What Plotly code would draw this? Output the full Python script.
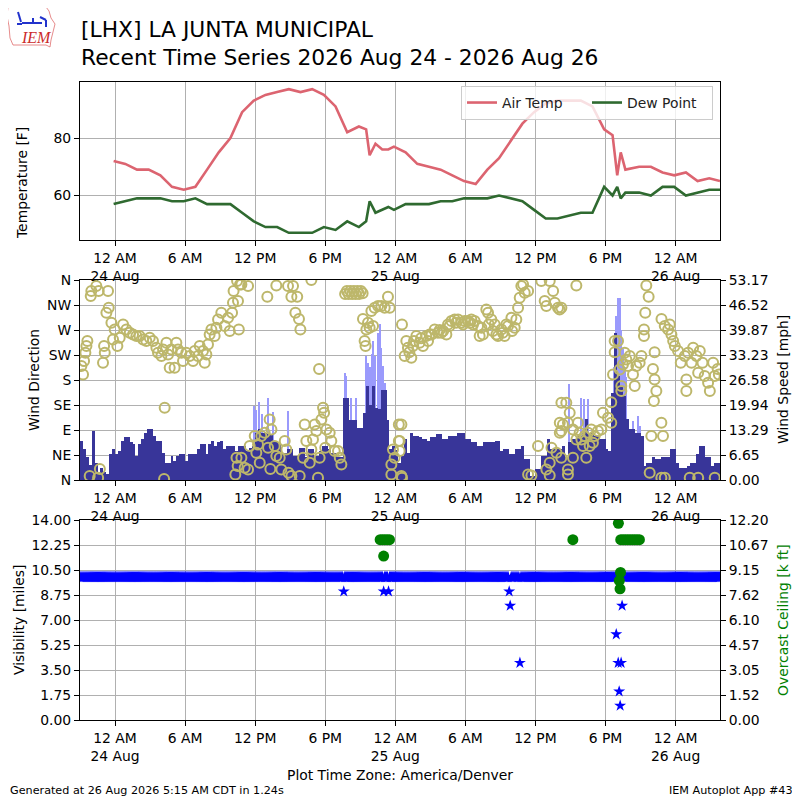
import numpy as np
import pandas as pd
import plotly.graph_objects as go

# ---------------------------------------------------------------- data
BASE = pd.Timestamp("2026-08-24 00:00")          # hours below are offsets from this
X_START_H, X_END_H = -3.0, 51.8

# hourly temperature / dew point observations
temp_hours = [-0.12, 0.88, 1.88, 2.88, 3.88, 4.88, 5.88, 6.88, 7.88, 8.88, 9.88, 10.88,
              11.88, 12.88, 13.88, 14.88, 15.88, 16.88, 17.88, 18.88, 19.88, 20.88, 21.5,
              21.8, 22.3, 22.88, 23.4, 23.88, 24.88, 25.88, 26.88, 27.88, 28.88, 29.88,
              30.88, 31.88, 32.88, 33.88, 34.88, 35.88, 36.88, 37.88, 38.88, 39.88, 40.88,
              41.88, 42.6, 43.0, 43.3, 43.7, 44.88, 45.88, 46.88, 47.88, 48.88, 49.88,
              50.88, 51.8]
air_temp = [72, 71, 69, 69, 67, 63, 62, 63, 69, 75, 80, 89, 93, 95, 96, 97, 96, 97, 95, 91,
            82, 84, 83, 74, 78, 76, 76, 77, 75, 71, 70, 69, 67, 65, 64, 69, 73, 79, 85, 89,
            92, 93, 93, 93, 91, 83, 81, 67, 75, 69, 70, 70, 68, 67, 68, 65, 66, 65]
dew_point = [57, 58, 59, 59, 59, 58, 58, 59, 57, 57, 57, 54, 51, 49, 49, 47, 47, 47, 49, 48,
             51, 49, 51, 58, 54, 55, 56, 55, 57, 57, 57, 58, 58, 59, 59, 59, 60, 59, 58, 55,
             52, 52, 53, 54, 54, 63, 60, 63, 59, 61, 61, 60, 63, 63, 60, 61, 62, 62]

# sustained wind speed [mph], 15-minute bins starting at hour -3 (one row per hour)
WIND_BIN_START_H = -3.0
WIND_BIN_MIN = 15
wind_speed = [
    10.4, 8.2, 6.0, 4.0,   13.0, 4.6, 2.0, 3.3,   2.0, 1.5, 6.8, 8.2,
    6.8, 7.7, 10.4, 11.3,  11.3, 10.0, 9.5, 6.4,  9.5, 10.8, 12.6, 13.6,
    13.6, 11.7, 10.4, 10.4, 7.3, 4.6, 4.6, 6.4,   5.0, 6.4, 6.8, 6.8,
    5.0, 6.8, 6.8, 6.8,    8.2, 9.5, 9.5, 6.8,    9.5, 10.4, 9.0, 10.0,
    10.4, 8.2, 9.0, 9.0,   9.0, 7.7, 9.0, 9.0,    9.0, 7.7, 8.5, 9.0,
    12.6, 13.5, 12.6, 12.6, 12.1, 12.1, 10.0, 10.0, 9.5, 7.3, 7.3, 8.2,
    8.2, 6.4, 6.4, 8.6,    8.6, 6.0, 8.2, 8.2,    6.4, 6.4, 7.7, 9.0,
    9.0, 8.2, 7.3, 7.3,    6.0, 6.0, 21.9, 21.9,  16.0, 16.0, 16.0, 13.9,
    13.9, 17.9, 25.0, 20.0, 25.0, 19.2, 18.8, 24.0, 24.0, 16.0, 8.2, 9.0,
    8.0, 4.6, 6.4, 10.8,   7.3, 12.6, 11.7, 11.7, 11.3, 10.8, 10.8, 10.4,
    11.3, 11.3, 12.1, 12.1, 10.8, 10.8, 11.7, 11.7, 11.7, 12.6, 12.6, 12.6,
    10.8, 10.8, 10.0, 10.0, 9.0, 9.0, 10.0, 10.0, 10.0, 10.0, 10.4, 10.4,
    7.7, 8.2, 8.2, 6.8,    6.8, 8.2, 8.2, 9.0,    5.5, 5.5, 1.0, 1.0,
    2.8, 2.8, 6.4, 6.4,    10.8, 8.2, 8.2, 8.2,   8.2, 9.0, 6.0, 10.0,
    10.8, 10.8, 11.7, 11.7, 12.6, 16.1, 12.6, 12.6, 11.7, 11.7, 10.8, 10.8,
    8.2, 7.7, 23.0, 39.0,  27.6, 25.0, 22.3, 16.1, 13.5, 13.5, 12.6, 12.6,
    11.7, 3.7, 4.6, 4.6,   6.0, 5.5, 5.5, 6.0,    6.0, 6.0, 8.2, 8.2,
    4.6, 3.3, 3.3, 3.3,    3.7, 4.6, 4.6, 6.8,    9.0, 9.0, 6.0, 6.0,
    3.7, 4.6, 4.6, 4.6,
]

# wind gusts [mph]
gust_hours = [11.87, 12.1, 12.33, 12.6, 13.1, 13.5, 14.81, 19.66, 19.8, 20.23, 20.66,
              21.52, 21.66, 21.8, 21.95, 22.09, 22.29, 22.52, 22.66, 22.8, 22.95, 23.09,
              38.84, 39.93, 40.13, 40.5, 42.75, 42.92, 43.07, 43.21, 43.35, 43.49, 43.64,
              43.78, 44.35, 44.78, 44.92]
gust_speed = [19.7, 18.5, 20.7, 17.5, 21.8, 18.0, 18.3, 28.5, 27.6, 21.9, 21.9,
              33.0, 31.0, 30.0, 33.4, 37.0, 33.0, 39.2, 41.4, 35.0, 30.3, 25.9,
              25.4, 21.9, 21.5, 21.5, 30.0, 43.6, 48.33, 48.33, 40.0, 34.7, 30.0,
              27.5, 15.7, 17.0, 14.4]

# wind direction [deg]
wdir_hours = [
    -2.88, -2.74, -2.65, -2.54, -2.45, -2.37, -2.17, -2.08, -2.03, -1.6, -1.45, -1.4, -1.3,
    -1.03, -0.94, -0.88, -0.74, -0.6, -0.54, -0.31, -0.17, -0.03, 0.2, 0.4, 0.69, 0.97,
    1.26, 1.54, 1.83, 2.1, 2.4, 2.68, 2.97, 3.25, 3.54, 3.68, 3.97, 4.11, 4.2, 4.25, 4.4,
    4.54, 4.68, 4.82, 5.1, 5.25, 5.39, 5.68, 5.82, 6.1, 6.39, 6.68, 6.82, 7.1, 7.25, 7.53,
    7.68, 7.82, 7.96, 8.1, 8.25, 8.53, 8.68, 8.82, 9.1, 9.39, 9.68, 9.82, 10.02, 10.1,
    10.15, 10.3, 10.4, 10.45, 10.5, 10.7,
    10.53, 10.6, 10.82, 10.82, 11.1, 11.39, 11.39, 11.53, 11.96, 12.1, 12.24, 12.39, 12.53,
    12.81, 13.04, 13.1, 13.24, 13.3, 13.39, 13.67, 13.81, 13.81, 14.1, 14.24, 14.53, 14.67,
    14.81, 14.85, 15.1, 15.1, 15.24, 15.44, 15.6, 15.75, 15.81, 15.87, 16.1, 16.24, 16.38,
    16.67, 16.81, 16.81, 16.95, 17.1, 17.24, 17.38, 17.47, 17.52, 17.67, 17.81, 17.9, 18.0,
    18.1, 18.38, 18.52, 18.81, 19.09, 19.24, 19.38,
    19.7, 19.85, 20.0, 20.15, 20.3, 20.45, 20.6, 20.75, 20.9, 21.05, 21.2,
    21.23, 21.37, 21.45, 21.52, 21.66, 21.8, 21.95, 22.09, 22.23, 22.52, 22.8, 23.09, 23.37,
    23.52, 23.66, 23.66, 23.8, 23.94, 24.3, 24.3,
    24.37, 24.37, 24.52, 24.52, 24.57, 24.57, 24.8, 24.94, 25.08, 25.2, 25.37, 25.51, 25.6,
    25.8, 26.08, 26.2, 26.37, 26.65, 26.8, 26.94, 27.1, 27.37, 27.65, 27.8, 27.94, 28.1,
    28.37, 28.51, 28.65, 28.8, 29.08, 29.2, 29.37, 29.65, 29.8, 29.94, 30.22, 30.4, 30.51,
    30.65, 30.79, 31.08, 31.22, 31.37, 31.5, 31.79, 31.94, 32.0, 32.22, 32.35, 32.51, 32.65,
    32.79, 33.08, 33.2, 33.36, 33.5, 33.65, 33.94, 34.0, 34.22, 34.36, 34.51, 34.65, 34.79,
    34.94, 35.08, 35.37, 35.37, 35.65, 36.22, 36.5, 36.79, 36.93, 36.93, 37.22, 37.22,
    37.22, 37.37, 37.51, 37.65, 37.8, 38.08, 38.08, 38.22, 38.22,
    37.93, 38.07, 38.21, 38.21, 38.35, 38.64, 38.78, 38.78, 38.78, 38.93, 39.21, 39.21,
    39.5, 39.5, 39.64, 39.78, 39.93, 40.07, 40.21, 40.35, 40.5, 40.64, 40.78, 40.92, 41.07,
    41.35, 41.64, 41.78, 42.21, 42.49, 42.49, 42.64, 42.78, 42.78, 43.07, 43.21, 43.35,
    43.35, 43.49, 43.64, 43.78, 43.93, 44.07, 44.35, 44.5, 44.64, 44.92, 45.07, 45.29,
    45.29, 45.4, 45.49, 45.69, 45.78, 45.92, 46.06, 46.14, 46.2, 46.2, 46.35, 46.78, 46.78,
    46.79, 46.92, 47.07, 47.07, 47.36, 47.5, 47.64, 47.79, 47.93, 48.21, 48.44, 48.79,
    48.92, 48.92, 49.07, 49.21, 49.36, 49.5, 49.78, 49.93, 49.93, 50.07, 50.3, 50.49, 50.78,
    50.93, 51.21, 51.35, 51.35, 51.6, 51.7,
]
wdir_deg = [
    205, 190, 214, 229, 241, 250, 7, 331, 340, 349, 4, 340, 20,
    211, 241, 229, 301, 340, 310, 283, 253, 271, 241, 256, 280, 271,
    265, 262, 259, 259, 253, 250, 256, 250, 238, 229, 223, 235, 2, 130, 247,
    226, 202, 235, 202, 247, 235, 229, 214, 229, 223, 214, 232, 223, 241, 232,
    211, 226, 244, 262, 271, 259, 274, 289, 301, 277, 292, 268, 301, 319,
    340, 10, 40, 358, 25, 352,
    322, 271, 352, 40, 22, 349, 19, 61, 79, 49, 64, 31, 79,
    85, 330, 58, 109, 20, 91, 61, 350, 43, 40, 19, 70, 55,
    349, 13, 330, 7, 349, 301, 330, 290, 7, 271, 40, 100, 70,
    31, 360, 55, 73, 100, 88, 4, 200, 40, 109, 130, 121, 58,
    91, 85, 70, 52, 52, 40, 28,
    335, 340, 335, 340, 335, 340, 335, 340, 335, 340, 336,
    290, 250, 241, 271, 283, 274, 304, 277, 310, 313, 313, 310, 330,
    310, 28, 10, 55, 40, 100, 70,
    70, 52, 100, 7, 4, 280, 223, 250, 238, 230, 220, 241, 250,
    259, 247, 255, 241, 259, 250, 262, 262, 271, 265, 270, 265, 268,
    262, 280, 277, 286, 289, 283, 289, 283, 280, 286, 286, 283, 289,
    280, 286, 277, 259, 274, 262, 307, 301, 280, 289, 268, 280, 262,
    259, 271, 265, 259, 280, 277, 292, 268, 274, 289, 310, 328, 349,
    352, 337, 340, 10, 8, 61, 358, 322, 313, 19, 358, 31,
    8, 58, 340, 319, 49, 85, 103, 139, 310,
    310, 307, 88, 40, 100, 139, 103, 19, 10, 121, 91, 40,
    350, 73, 103, 85, 73, 61, 79, 40, 85, 61, 91, 67, 79,
    88, 91, 121, 112, 103, 140, 190, 250, 230, 250, 199, 169,
    160, 208, 229, 217, 205, 223, 190, 169, 205, 211, 223, 271,
    259, 301, 350, 330, 13, 79, 200, 142, 230, 181, 160, 103, 4,
    290, 79, 277, 4, 271, 280, 262, 250, 241, 232, 211, 223,
    181, 160, 229, 4, 211, 238, 223, 193, 4, 232, 211, 187, 175,
    160, 211, 187, 4, 200, 190,
]

# visibility: every 5-minute report reads 10 miles except the reports below
VIS_REPORT_MIN = 5
VIS_REPORTED = 10.0
vis_low_hours = [19.6, 23.0, 23.4, 33.75, 33.83, 34.7, 42.9, 43.1, 43.15, 43.2, 43.33, 43.42, 43.25]
vis_low_miles = [9.0, 9.0, 9.0, 9.0, 8.0, 4.0, 6.0, 4.0, 1.75, 2.0, 4.0, 8.0, 1.0]

# overcast ceiling [k ft]
ceil_hours = [22.7, 22.9, 23.1, 23.3, 23.5, 23.0, 39.2, 43.1, 43.3, 43.5, 43.7, 43.9, 44.1,
              44.3, 44.5, 44.7, 44.9, 43.28, 43.18, 43.24]
ceil_kft = [11.0, 11.0, 11.0, 11.0, 11.0, 10.0, 11.0, 12.0, 11.0, 11.0, 11.0, 11.0, 11.0,
            11.0, 11.0, 11.0, 11.0, 9.0, 8.5, 8.0]

# axis ticks
tick_hours = [0, 6, 12, 18, 24, 30, 36, 42, 48]
tick_text = ["12 AM<br>24 Aug", "6 AM", "12 PM", "6 PM", "12 AM<br>25 Aug",
             "6 AM", "12 PM", "6 PM", "12 AM<br>26 Aug"]
dir_labels = ["N", "NE", "E", "SE", "S", "SW", "W", "NW", "N"]
speed_labels = ["0.00", "6.65", "13.29", "19.94", "26.58", "33.23", "39.87", "46.52", "53.17"]
vis_labels = ["0.00", "1.75", "3.50", "5.25", "7.00", "8.75", "10.50", "12.25", "14.00"]
ceil_labels = ["0.00", "1.52", "3.05", "4.57", "6.10", "7.62", "9.15", "10.67", "12.20"]
VIS_MAX = 14.0
CEIL_MAX = 12.2


# ---------------------------------------------------------------- helpers
def t(hours):
    return BASE + pd.to_timedelta(np.asarray(hours, dtype=float), unit="h")


W, H = 800, 800
OFF = 8                      # page body margin of the browser
ML, MR = 80 - OFF, 800 - (720 - OFF)
PW = W - ML - MR


def px_x(px):
    return (px - OFF - ML) / PW


def px_y(py):
    return 1 - (py - OFF) / H


FONT = "DejaVu Sans"
FS = 13.9
GRID = "#b0b0b0"
RED = "#dc6470"
GREEN = "#2f6a30"
NAVY = "#383599"
GUSTC = "#9a9afc"
KHAKI = "#bdb76b"

# derived series
wind_t = t(WIND_BIN_START_H + (np.arange(len(wind_speed)) + 0.5) * WIND_BIN_MIN / 60.0)
speed_max = 1.1 * max(gust_speed)

vis_h = np.arange(X_START_H, X_END_H, VIS_REPORT_MIN / 60.0)
vis_v = np.full(vis_h.shape, VIS_REPORTED)
for hh, vv in zip(vis_low_hours, vis_low_miles):
    vis_v[int(np.argmin(np.abs(vis_h - hh)))] = vv

fig = go.Figure()

# top panel
fig.add_trace(go.Scatter(x=t(temp_hours), y=air_temp, mode="lines", name="Air Temp",
                         line=dict(color=RED, width=2.6), xaxis="x", yaxis="y"))
fig.add_trace(go.Scatter(x=t(temp_hours), y=dew_point, mode="lines", name="Dew Point",
                         line=dict(color=GREEN, width=2.6), xaxis="x", yaxis="y"))

# middle panel
fig.add_trace(go.Bar(x=t(gust_hours), y=gust_speed, width=4 * 60 * 1000,
                     marker=dict(color=GUSTC, line=dict(width=0)), showlegend=False,
                     xaxis="x2", yaxis="y2"))
fig.add_trace(go.Bar(x=wind_t, y=wind_speed, width=WIND_BIN_MIN * 60 * 1000,
                     marker=dict(color=NAVY, line=dict(width=0)), showlegend=False,
                     xaxis="x2", yaxis="y2"))
fig.add_trace(go.Scatter(x=t(wdir_hours), y=wdir_deg, mode="markers", showlegend=False,
                         marker=dict(symbol="circle-open", size=10, color=KHAKI,
                                     line=dict(width=2, color=KHAKI)),
                         xaxis="x2", yaxis="y3"))

# bottom panel
fig.add_trace(go.Scatter(x=t(vis_h), y=vis_v, mode="markers", showlegend=False,
                         marker=dict(symbol="star", size=9, color="#0000ff",
                                     line=dict(width=0)),
                         xaxis="x3", yaxis="y4"))
fig.add_trace(go.Scatter(x=t(ceil_hours), y=ceil_kft, mode="markers", showlegend=False,
                         marker=dict(symbol="circle", size=11, color="#008000",
                                     line=dict(width=0)),
                         xaxis="x3", yaxis="y5"))

xr = [t(X_START_H), t(X_END_H)]
xcommon = dict(range=xr, tickvals=list(t(tick_hours)), ticktext=tick_text,
               showgrid=True, gridcolor=GRID, gridwidth=1, ticks="outside", ticklen=5,
               tickcolor="black", showline=True, linecolor="black", linewidth=1,
               mirror=True, zeroline=False, automargin=False,
               tickfont=dict(family=FONT, size=FS, color="black"), domain=[0, 1])
ycommon = dict(ticks="outside", ticklen=5, tickcolor="black", showline=True,
               linecolor="black", linewidth=1, zeroline=False, automargin=False,
               tickfont=dict(family=FONT, size=FS, color="black"))

D_TOP = [px_y(240), px_y(82)]
D_MID = [px_y(480), px_y(280)]
D_BOT = [px_y(720), px_y(520)]

fig.update_layout(
    template="none",
    width=W, height=H, margin=dict(l=ML, r=MR, t=0, b=0, pad=0, autoexpand=False),
    paper_bgcolor="white", plot_bgcolor="white", barmode="overlay", bargap=0,
    font=dict(family=FONT, size=FS, color="black"),
    xaxis=dict(anchor="y", **xcommon),
    yaxis=dict(domain=D_TOP, anchor="x", range=[44.5, 99.5], tickvals=[60, 80],
               showgrid=True, gridcolor=GRID, mirror=True, **ycommon),
    xaxis2=dict(anchor="y2", **xcommon),
    yaxis2=dict(domain=D_MID, anchor="x2", side="right", range=[0, speed_max],
                tickvals=[speed_max * i / 8 for i in range(9)], ticktext=speed_labels,
                showgrid=True, gridcolor=GRID, **ycommon),
    yaxis3=dict(overlaying="y2", anchor="x2", side="left", range=[0, 360],
                tickvals=[45 * i for i in range(9)], ticktext=dir_labels,
                showgrid=False, **ycommon),
    xaxis3=dict(anchor="y4", **xcommon),
    yaxis4=dict(domain=D_BOT, anchor="x3", side="left", range=[0, VIS_MAX],
                tickvals=[VIS_MAX * i / 8 for i in range(9)], ticktext=vis_labels,
                showgrid=True, gridcolor=GRID, **ycommon),
    yaxis5=dict(overlaying="y4", anchor="x3", side="right", range=[0, CEIL_MAX],
                tickvals=[CEIL_MAX * i / 8 for i in range(9)], ticktext=ceil_labels,
                showgrid=False, **ycommon),
    legend=dict(orientation="h", x=px_x(713), xanchor="right", y=px_y(86), yanchor="top",
                bgcolor="rgba(255,255,255,0.8)", bordercolor="#cccccc", borderwidth=1,
                font=dict(family=FONT, size=FS, color="#222222"), itemwidth=30,
                entrywidth=80, entrywidthmode="pixels"),
    showlegend=True,
)

ann = []


def add_text(text, x_px, y_px, size=FS, xanchor="center", angle=0, color="black",
             family=FONT):
    ann.append(dict(text=text, x=px_x(x_px), y=px_y(y_px), xref="paper", yref="paper",
                    showarrow=False, xanchor=xanchor, yanchor="middle", textangle=angle,
                    font=dict(family=family, size=size, color=color)))


add_text("[LHX] LA JUNTA MUNICIPAL", 79, 30, size=21.8, xanchor="left")
add_text("Recent Time Series 2026 Aug 24 - 2026 Aug 26", 79, 57, size=21.8, xanchor="left")
add_text("Temperature [F]", 22, 183, angle=-90)
add_text("Wind Direction", 34, 380, angle=-90)
add_text("Wind Speed [mph]", 783, 380, angle=-90)
add_text("Visibility [miles]", 19, 620, angle=-90)
add_text("Overcast Ceiling [k ft]", 783, 620, angle=-90, color="#008000")
add_text("Plot Time Zone: America/Denver", 400, 775)
add_text("Generated at 26 Aug 2026 5:15 AM CDT in 1.24s", 8, 790, size=11.2, xanchor="left")
add_text("IEM Autoplot App #43", 795, 790, size=11.2, xanchor="right")
add_text("<i>IEM</i>", 36, 38, size=16, color="#cc2a2a", family="Liberation Serif")
fig.update_layout(annotations=ann)

# IEM logo outline (decorative)
outline = [(8, 7), (46, 7), (49, 11), (51, 18), (55, 24), (53, 32), (51, 40), (50, 47),
           (46, 45), (13, 45), (10, 38), (9, 26), (7, 16)]
path = "M " + " L ".join(f"{px_x(a)},{px_y(b)}" for a, b in outline) + " Z"
shapes = [dict(type="path", path=path, xref="paper", yref="paper",
               line=dict(color="rgba(220,90,90,0.7)", width=1))]
for (a, b, c, d) in [(22, 23, 42, 23), (33, 18, 33, 23), (40, 17, 46, 20), (46, 20, 46, 27),
                     (18, 12, 21, 22), (17, 24, 22, 24)]:
    shapes.append(dict(type="line", x0=px_x(a), y0=px_y(b), x1=px_x(c), y1=px_y(d),
                       xref="paper", yref="paper", line=dict(color="#2233cc", width=2)))
fig.update_layout(shapes=shapes)

fig.write_html("out.html")
